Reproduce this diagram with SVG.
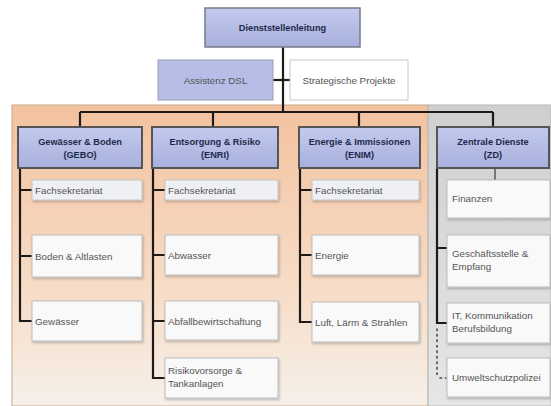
<svg xmlns="http://www.w3.org/2000/svg" width="551" height="406" viewBox="0 0 551 406">
<defs>
<linearGradient id="gOr" x1="0" y1="0" x2="0" y2="1">
<stop offset="0" stop-color="#f3c29f"/>
<stop offset="0.6" stop-color="#f7dcc6"/>
<stop offset="1" stop-color="#f6f0ea"/>
</linearGradient>
<linearGradient id="gGr" x1="0" y1="0" x2="0" y2="1">
<stop offset="0" stop-color="#cfcfcf"/>
<stop offset="1" stop-color="#e6e6e6"/>
</linearGradient>
<linearGradient id="gHd" x1="0" y1="0" x2="0" y2="1">
<stop offset="0" stop-color="#c3caee"/>
<stop offset="1" stop-color="#a7b0dd"/>
</linearGradient>
<filter id="sh" x="-10%" y="-10%" width="130%" height="140%">
<feDropShadow dx="1" dy="1.5" stdDeviation="1" flood-color="#000" flood-opacity="0.25"/>
</filter>
<style>
.hd{fill:url(#gHd);stroke:#555;stroke-width:2}
.top{fill:url(#gHd);stroke:#7a7a8a;stroke-width:1.5}
.as{fill:#b6bee7;stroke:#9a9fb5;stroke-width:1}
.sb{fill:#f9f9f9;stroke:#bdbdbd;stroke-width:1;filter:url(#sh)}
.sbl{fill:#eef0f4;stroke:#c6c6c6;stroke-width:1;filter:url(#sh)}
.ht{font-family:"Liberation Sans",Arial,sans-serif;font-weight:bold;font-size:9.2px;fill:#1f2a4a;text-anchor:middle}
.t{font-family:"Liberation Sans",Arial,sans-serif;font-size:9.8px;fill:#555}
.ln{stroke:#1e1a18;stroke-width:2.2;fill:none}
.lg{stroke:#777;stroke-width:2;fill:none}
.dt{stroke:#444;stroke-width:1.6;fill:none;stroke-dasharray:1.5 4;stroke-linecap:round}
</style>
</defs>
<rect width="551" height="406" fill="#fff"/>
<rect x="12" y="105" width="416" height="301" fill="url(#gOr)" stroke="#c9a88c" stroke-width="1"/>
<rect x="428" y="105" width="123" height="301" fill="url(#gGr)" stroke="#b8b8b8" stroke-width="1"/>

<g id="connectors">
<path class="ln" d="M283 47V112"/>
<path class="ln" d="M273 80H290"/>
<path class="ln" d="M80 112H493M80 112V127M213 112V127M359 112V127M493 112V127"/>
<path class="ln" d="M20 168V321H32M20 190H32M20 256H32"/>
<path class="ln" d="M153 168V378H165M153 190H165M153 255H165M153 321H165"/>
<path class="ln" d="M300 168V322H312M300 190H312M300 255H312"/>
<path class="lg" d="M495 168V180"/>
<path class="ln" d="M437 168V323H447M437 248H447"/>
<path class="dt" d="M437 329V376M440 378H446"/>
</g>

<g id="n-dsl"><rect class="top" x="205" y="8" width="155" height="39"/><text class="ht" x="282.5" y="31" font-size="10.6">Dienststellenleitung</text></g>
<g id="n-assist"><rect class="as" x="158" y="60" width="115" height="40"/><text class="t" x="215.5" y="83.5" text-anchor="middle" font-size="9.5" fill="#5a6490">Assistenz DSL</text></g>
<g id="n-strat"><rect x="290" y="60" width="118" height="40" fill="#fff" stroke="#c8c8c8"/><text class="t" x="349" y="83.5" text-anchor="middle">Strategische Projekte</text></g>

<g id="n-gebo"><rect class="hd" x="18" y="127" width="124" height="41"/><text class="ht" x="80" y="145">Gewässer &amp; Boden</text><text class="ht" x="80" y="158">(GEBO)</text></g>
<g id="n-enri"><rect class="hd" x="152" y="127" width="126" height="41"/><text class="ht" x="215" y="145">Entsorgung &amp; Risiko</text><text class="ht" x="215" y="158">(ENRI)</text></g>
<g id="n-enim"><rect class="hd" x="299" y="127" width="121" height="41"/><text class="ht" x="359.5" y="145">Energie &amp; Immissionen</text><text class="ht" x="359.5" y="158">(ENIM)</text></g>
<g id="n-zd"><rect class="hd" x="437" y="127" width="112" height="41"/><text class="ht" x="493" y="145">Zentrale Dienste</text><text class="ht" x="493" y="158">(ZD)</text></g>

<g id="n-gebo-fs"><rect class="sbl" x="32" y="180" width="110" height="20"/><text class="t" x="35" y="193.5">Fachsekretariat</text></g>
<g id="n-gebo-boden"><rect class="sb" x="32" y="235" width="110" height="42"/><text class="t" x="35" y="259.5">Boden &amp; Altlasten</text></g>
<g id="n-gebo-gew"><rect class="sb" x="32" y="301" width="110" height="40"/><text class="t" x="35" y="324.5">Gewässer</text></g>

<g id="n-enri-fs"><rect class="sbl" x="165" y="180" width="113" height="20"/><text class="t" x="168" y="193.5">Fachsekretariat</text></g>
<g id="n-enri-abw"><rect class="sb" x="165" y="235" width="113" height="40"/><text class="t" x="168" y="258.5">Abwasser</text></g>
<g id="n-enri-abf"><rect class="sb" x="165" y="301" width="113" height="39"/><text class="t" x="168" y="324.5">Abfallbewirtschaftung</text></g>
<g id="n-enri-risk"><rect class="sb" x="165" y="358" width="113" height="40"/><text class="t" x="168" y="374">Risikovorsorge &amp;</text><text class="t" x="168" y="387">Tankanlagen</text></g>

<g id="n-enim-fs"><rect class="sbl" x="312" y="180" width="107" height="20"/><text class="t" x="315" y="193.5">Fachsekretariat</text></g>
<g id="n-enim-en"><rect class="sb" x="312" y="235" width="107" height="40"/><text class="t" x="315" y="258.5">Energie</text></g>
<g id="n-enim-luft"><rect class="sb" x="312" y="302" width="107" height="40"/><text class="t" x="315" y="325.5">Luft, Lärm &amp; Strahlen</text></g>

<g id="n-zd-fin"><rect class="sb" x="447" y="180" width="103" height="38"/><text class="t" x="452" y="202">Finanzen</text></g>
<g id="n-zd-gs"><rect class="sb" x="447" y="235" width="103" height="52"/><text class="t" x="452" y="257">Geschäftsstelle &amp;</text><text class="t" x="452" y="270">Empfang</text></g>
<g id="n-zd-it"><rect class="sb" x="447" y="303" width="103" height="40"/><text class="t" x="452" y="319">IT, Kommunikation</text><text class="t" x="452" y="332">Berufsbildung</text></g>
<g id="n-zd-usp"><rect class="sb" x="447" y="358" width="103" height="39"/><text class="t" x="452" y="381">Umweltschutzpolizei</text></g>
</svg>
